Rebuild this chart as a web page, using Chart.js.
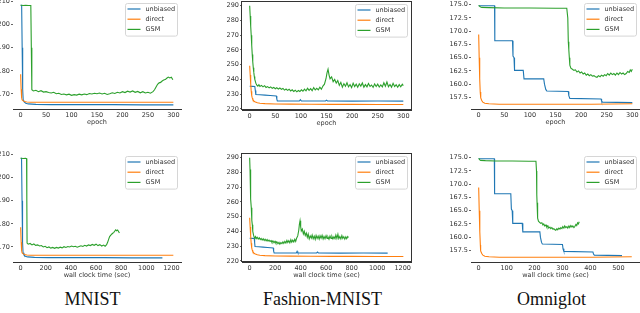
<!DOCTYPE html>
<html>
<head>
<meta charset="utf-8">
<script src="https://cdn.jsdelivr.net/npm/chart.js"></script>
<style>
body {
  margin: 0;
  width: 640px;
  height: 313px;
  overflow: hidden;
  position: relative;
  background: #fff;
}
.caption {
  position: absolute;
  font-family: "Liberation Serif", serif;
  font-size: 18px;
  line-height: 18px;
  color: #111;
  transform: translateX(-50%);
  white-space: nowrap;
}
</style>
</head>
<body>

<script>

// ==========================
// data
// ==========================

const seriesNames = ["unbiased", "direct", "GSM"];
const seriesColors = ["#1f77b4", "#ff7f0e", "#2ca02c"];
const captions = ["MNIST", "Fashion-MNIST", "Omniglot"];

const epochTicks = [0, 50, 100, 150, 200, 250, 300];
const mnistTimeTicks = [0, 200, 400, 600, 800, 1000, 1200];
const fashionTimeTicks = [0, 200, 400, 600, 800, 1000, 1200];
const omniglotTimeTicks = [0, 100, 200, 300, 400, 500];
const mnistYTicks = [170, 180, 190, 200, 210];
const fashionYTicks = [220, 230, 240, 250, 260, 270, 280, 290];
const omniglotYTicks = [157.5, 160, 162.5, 165, 167.5, 170, 172.5, 175];

// MNIST / epoch
const mnistEpochUnbiased = [[0,208.3],[2,208.3],[3,190],[4,172],[5,167.5],[7,166.6],[10,166.0],[15,165.7],[30,165.5],[60,165.4],[120,165.4],[180,165.4],[240,165.3],[300,165.3]];
const mnistEpochDirect = [[0,178.5],[1,172],[2,168.2],[3,167.4],[5,167.0],[8,166.7],[12,166.5],[20,166.4],[50,166.4],[100,166.4],[160,166.4],[230,166.4],[300,166.4]];
const mnistEpochGsm = [[0,208.3],[5,208.2],[10,208.3],[15,208.2],[20,208.2],[21,190],[22,171.8],[25,171.3],[30,171.6],[35,171.0],[40,171.4],[45,170.8],[50,171.0],[55,170.6],[60,170.4],[65,170.7],[70,170.1],[75,170.3],[80,169.8],[85,170.0],[90,169.6],[95,169.9],[100,169.4],[105,169.7],[110,169.5],[115,169.9],[120,169.6],[125,170.0],[130,169.7],[135,170.2],[140,170.0],[145,170.3],[150,170.1],[155,170.4],[160,170.0],[165,170.3],[170,169.8],[175,170.1],[180,170.5],[185,170.2],[190,170.7],[195,170.4],[200,171.0],[205,170.6],[210,171.2],[215,170.8],[220,171.3],[225,170.7],[230,171.1],[235,170.5],[240,171.0],[245,170.4],[250,170.7],[255,170.3],[260,171.0],[263,171.8],[266,173.0],[269,174.2],[272,174.8],[275,175.0],[278,175.6],[281,176.0],[284,176.2],[287,176.8],[290,177.3],[293,176.9],[296,177.2],[299,176.1]];

// MNIST / wall clock
const mnistTimeUnbiased = [[0,208.3],[7,208.3],[11,190],[15,172],[19,167.5],[26,166.6],[37,166.0],[55,165.7],[110,165.5],[220,165.4],[440,165.4],[660,165.4],[880,165.3],[1128,165.3]];
const mnistTimeDirect = [[0,178.5],[4,172],[8,168.2],[12,167.4],[20,167.0],[32,166.7],[49,166.5],[81,166.4],[200,166.4],[400,166.4],[650,166.4],[930,166.4],[1215,166.4]];
const mnistTimeGsm = [[0,208.3],[20,208.2],[40,208.3],[47,208.2],[49,190],[51,171.7],[60,171.2],[75,171.5],[90,170.9],[105,171.3],[120,170.7],[135,170.9],[150,170.4],[165,170.6],[180,170.0],[195,170.3],[210,169.7],[225,170.0],[240,169.5],[255,169.8],[270,169.4],[285,169.8],[300,169.5],[315,169.9],[330,169.6],[345,170.1],[360,169.8],[375,170.2],[390,170.0],[405,170.4],[420,170.1],[435,170.3],[450,169.9],[465,170.2],[480,170.5],[495,170.2],[510,170.7],[525,170.4],[540,170.9],[555,170.6],[570,171.1],[585,170.7],[600,171.2],[615,170.6],[630,171.0],[645,170.4],[660,170.8],[672,170.3],[684,171.0],[692,172.0],[700,173.3],[708,174.5],[716,175.0],[724,175.5],[732,175.9],[740,176.2],[748,176.8],[756,177.4],[764,177.0],[772,177.3],[780,176.6],[786,176.0]];

// Fashion-MNIST / epoch
const fashionEpochUnbiased = [[0,235.4],[5,235.3],[10,235.2],[11,232.5],[12,229.8],[20,229.6],[30,229.4],[40,229.1],[52,228.8],[53,226.6],[54,225.5],[70,225.4],[97,225.4],[99,226.3],[101,225.4],[148,225.4],[150,226.0],[152,225.4],[200,225.3],[250,225.4],[300,225.3]];
const fashionEpochDirect = [[0,249.3],[1,243],[2,237],[3,232],[4,229],[5,227.5],[6,226.5],[8,225.5],[10,224.9],[15,224.2],[20,223.9],[30,223.6],[50,223.4],[80,223.3],[120,223.2],[160,223.1],[200,223.1],[250,223.0],[300,223.0]];
const fashionEpochGsm = [[0,290],[1,283],[2,276],[3,270],[4,263],[5,257],[6,252],[7,248],[8,245],[9,242],[10,240],[12,237.5],[14,236.2],[16,235.5],[18,236.4],[20,235.3],[23,236.0],[26,235.0],[29,235.8],[32,234.6],[35,235.2],[38,234.3],[41,235.0],[44,234.0],[47,234.6],[50,233.7],[53,234.4],[56,233.5],[59,234.2],[62,233.3],[65,233.9],[68,232.8],[71,233.5],[74,232.6],[77,233.4],[80,232.2],[83,233.0],[86,231.9],[89,232.7],[92,231.6],[95,232.5],[98,231.8],[101,233.0],[104,232.0],[107,233.4],[110,232.3],[113,234.0],[116,232.6],[119,233.8],[122,232.4],[125,234.5],[128,232.9],[131,234.0],[134,233.0],[137,234.8],[140,233.4],[143,235.5],[146,236.8],[149,240.5],[151,244.5],[153,247.0],[155,243.0],[157,240.5],[160,241.8],[163,238.5],[166,240.0],[169,237.5],[172,239.2],[175,236.0],[178,238.0],[181,234.8],[184,237.2],[187,235.4],[190,237.8],[193,235.0],[196,236.6],[199,234.5],[202,237.5],[205,235.2],[208,236.8],[211,234.7],[214,237.0],[217,235.5],[220,237.6],[223,234.8],[226,236.5],[229,235.0],[232,237.3],[235,235.3],[238,236.2],[241,234.6],[244,237.0],[247,235.2],[250,236.8],[253,234.9],[256,236.3],[259,235.0],[262,237.8],[265,235.4],[268,238.3],[271,235.1],[274,236.6],[277,234.8],[280,237.4],[283,235.2],[286,236.4],[289,234.7],[292,236.5],[295,235.0],[298,236.7],[300,235.8]];

// Fashion-MNIST / wall clock
const fashionTimeUnbiased = [[0,235.4],[20,235.3],[36,235.2],[39,232.5],[42,229.8],[70,229.6],[105,229.4],[140,229.1],[185,228.8],[188,226.6],[192,225.5],[250,225.4],[366,225.4],[372,226.5],[378,225.4],[525,225.4],[532,226.0],[539,225.4],[710,225.3],[890,225.4],[1082,225.3]];
const fashionTimeDirect = [[0,249.3],[4,243],[8,237],[12,232],[16,229],[20,227.5],[24,226.5],[32,225.5],[40,224.9],[60,224.2],[80,223.9],[120,223.6],[200,223.4],[320,223.3],[480,223.2],[640,223.1],[800,223.1],[1000,223.0],[1205,223.0]];
const fashionTimeGsm = [[0,290],[3,282],[5,275],[8,269],[10,262],[13,256],[16,251],[18,247.5],[21,244.5],[23,242],[26,240],[31,237.3],[36,236.0],[41,235.6],[46,236.5],[52,235.2],[59,236.1],[67,234.9],[75,235.7],[83,234.5],[90,235.3],[98,234.2],[106,235.1],[114,233.9],[121,234.7],[129,233.6],[137,234.5],[144,233.4],[152,234.1],[160,233.2],[168,233.8],[175,232.7],[183,233.6],[191,232.4],[199,233.3],[206,232.1],[214,232.9],[222,231.7],[230,232.6],[237,231.4],[245,232.4],[253,231.7],[261,232.9],[268,231.9],[276,233.3],[284,232.2],[292,233.9],[299,232.5],[307,233.7],[315,232.3],[323,234.4],[330,232.8],[338,234.1],[346,232.9],[354,234.7],[361,233.3],[369,235.6],[377,237.0],[385,240.8],[390,244.8],[395,247.2],[400,243.2],[405,240.3],[413,241.6],[421,238.3],[428,240.1],[436,237.3],[444,239.0],[452,236.1],[459,238.2],[467,234.9],[475,237.0],[483,235.5],[490,237.6],[498,235.1],[506,236.8],[514,234.6],[521,237.3],[529,235.3],[537,236.9],[545,234.8],[552,237.1],[560,235.4],[568,237.4],[576,234.9],[583,236.6],[591,235.1],[599,237.2],[607,235.2],[614,236.3],[622,234.7],[630,236.9],[638,235.3],[645,236.7],[653,235.0],[661,236.4],[669,235.1],[676,237.6],[684,235.3],[692,238.1],[699,235.2],[707,236.5],[715,234.9],[723,237.2],[730,235.3],[738,236.5],[746,234.8],[754,236.4],[761,235.1],[769,236.6],[775,235.9]];

// Omniglot / epoch
const omniEpochUnbiased = [[0,174.8],[31,174.8],[31.5,168.2],[66,168.2],[67,165.3],[69,165.0],[70,162.6],[87,162.6],[88.5,161.0],[127,161.0],[128.5,160.0],[131,159.0],[133,158.7],[175,158.6],[176,157.8],[178,157.3],[239,157.2],[240,156.8],[242,156.6],[300,156.5]];
const omniEpochDirect = [[0,169.4],[1,165],[2,161],[3,158.5],[4,157.4],[6,156.9],[8,156.6],[12,156.4],[20,156.3],[40,156.2],[80,156.2],[150,156.2],[220,156.2],[300,156.3]];
const omniEpochGsm = [[0,174.9],[3,174.6],[6,174.5],[20,174.45],[50,174.4],[100,174.4],[150,174.35],[172,174.35],[174,172.5],[175,168],[176,166.5],[177,165],[178,163.6],[180,163.0],[183,162.8],[186,162.6],[189,162.7],[192,162.3],[195,162.5],[198,162.1],[201,162.3],[204,161.9],[207,162.1],[210,161.7],[213,161.9],[216,161.6],[219,161.8],[222,161.5],[225,161.6],[228,161.4],[231,161.3],[234,161.6],[237,161.4],[240,161.7],[243,161.5],[246,161.8],[249,161.6],[252,162.0],[255,161.7],[258,162.1],[261,161.8],[264,162.0],[267,161.7],[270,162.1],[273,161.8],[276,162.2],[279,161.9],[282,162.1],[285,161.8],[288,162.0],[291,162.4],[294,162.2],[296,162.7],[298,162.4],[300,162.8]];

// Omniglot / wall clock
const omniTimeUnbiased = [[0,174.8],[56,174.8],[57,168.2],[115,168.2],[117,165.3],[120,165.0],[122,162.6],[156,162.6],[158,161.0],[219,161.0],[221,160.0],[225,159.0],[228,158.7],[300,158.6],[302,157.8],[305,157.3],[409,157.2],[411,156.8],[414,156.6],[513,156.5]];
const omniTimeDirect = [[0,169.4],[2,165],[4,161],[6,158.5],[7,157.4],[11,156.9],[15,156.6],[22,156.4],[37,156.3],[74,156.2],[150,156.2],[275,156.2],[405,156.2],[548,156.3]];
const omniTimeGsm = [[0,174.9],[4,174.6],[7,174.5],[24,174.45],[60,174.4],[120,174.4],[180,174.35],[205,174.35],[207,172.5],[208,168],[209,166.5],[210,165],[212,163.6],[214,163.0],[218,162.8],[222,162.6],[226,162.7],[230,162.3],[233,162.5],[237,162.1],[241,162.3],[244,161.9],[248,162.1],[251,161.7],[255,161.9],[258,161.6],[262,161.8],[266,161.5],[269,161.6],[273,161.4],[276,161.3],[280,161.6],[283,161.4],[287,161.7],[291,161.5],[294,161.8],[298,161.6],[301,162.0],[305,161.7],[308,162.1],[312,161.8],[316,162.0],[319,161.7],[323,162.1],[326,161.8],[330,162.2],[334,161.9],[337,162.1],[341,161.8],[344,162.0],[348,162.4],[351,162.2],[354,162.7],[357,162.5],[360,162.9]];


// ==========================
// panel layout
// ==========================

const panels = [
  { plot: [13, 0, 181, 109], x: [-15, 315], y: [163.5, 210.6], xTicks: epochTicks, yTicks: mnistYTicks, digits: 0, xTitle: "epoch", box: false, series: [mnistEpochUnbiased, mnistEpochDirect, mnistEpochGsm] },
  { plot: [242, 1, 411, 110], x: [-15, 315], y: [219.3, 293.2], xTicks: epochTicks, yTicks: fashionYTicks, digits: 0, xTitle: "epoch", box: true, series: [fashionEpochUnbiased, fashionEpochDirect, fashionEpochGsm] },
  { plot: [471, 0, 640, 109], x: [-15, 315], y: [155.3, 175.9], xTicks: epochTicks, yTicks: omniglotYTicks, digits: 1, xTitle: "epoch", box: false, series: [omniEpochUnbiased, omniEpochDirect, omniEpochGsm] },
  { plot: [13, 153, 181, 262], x: [-61, 1276], y: [163.5, 210.6], xTicks: mnistTimeTicks, yTicks: mnistYTicks, digits: 0, xTitle: "wall clock time (sec)", box: false, series: [mnistTimeUnbiased, mnistTimeDirect, mnistTimeGsm] },
  { plot: [242, 153, 411, 262], x: [-60, 1265], y: [219.3, 293.2], xTicks: fashionTimeTicks, yTicks: fashionYTicks, digits: 0, xTitle: "wall clock time (sec)", box: true, series: [fashionTimeUnbiased, fashionTimeDirect, fashionTimeGsm] },
  { plot: [471, 153, 640, 262], x: [-27.5, 577.5], y: [155.3, 175.9], xTicks: omniglotTimeTicks, yTicks: omniglotYTicks, digits: 1, xTitle: "wall clock time (sec)", box: false, series: [omniTimeUnbiased, omniTimeDirect, omniTimeGsm] }
];

const captionPos = [[92.6, 290], [322.6, 290], [551.5, 290]];

const Y_AXIS_W = 28;
const PAD_TOP = 6;
const PAD_RIGHT = 12;
const X_AXIS_H = 17;

const FONT = "DejaVu Sans";
const TEXT_COLOR = "#333";


// ==========================
// plugins
// ==========================

const cornerLegend = {
  id: "cornerLegend",
  afterDatasetsDraw(chart) {
    const a = chart.chartArea;
    const ctx = chart.ctx;
    const sets = chart.data.datasets;
    const w = 52;
    const rowH = 10.2;
    const h = sets.length * rowH + 2;
    const x0 = Math.round(a.right - 4 - w) + 0.5;
    const y0 = Math.round(a.top + 3) + 0.5;

    ctx.save();
    ctx.fillStyle = "rgba(255,255,255,0.8)";
    ctx.strokeStyle = "#d6d6d6";
    ctx.lineWidth = 1;
    ctx.beginPath();
    ctx.roundRect(x0, y0, w, h, 2);
    ctx.fill();
    ctx.stroke();

    ctx.font = "6.5px " + FONT;
    ctx.textBaseline = "middle";
    ctx.textAlign = "left";

    sets.forEach((ds, i) => {
      const y = y0 + 5.5 + i * rowH;
      ctx.strokeStyle = ds.borderColor;
      ctx.lineWidth = 1.2;
      ctx.beginPath();
      ctx.moveTo(x0 + 2, y);
      ctx.lineTo(x0 + 15, y);
      ctx.stroke();
      ctx.fillStyle = TEXT_COLOR;
      ctx.fillText(ds.label, x0 + 20, y);
    });

    ctx.restore();
  }
};

const frameBox = {
  id: "frameBox",
  afterDatasetsDraw(chart, args, opts) {
    if (!opts.show) return;
    const a = chart.chartArea;
    const ctx = chart.ctx;
    ctx.save();
    ctx.strokeStyle = "#333";
    ctx.lineWidth = 1;
    ctx.strokeRect(Math.round(a.left) - 0.5, Math.round(a.top) + 0.5, Math.round(a.width) + 1, Math.round(a.height) - 1);
    ctx.restore();
  }
};


// ==========================
// chart builder
// ==========================

function toPoints(arr) {
  return arr.map(p => ({ x: p[0], y: p[1] }));
}

function createPanel(p) {

  const [l, t, r, b] = p.plot;
  const left = l - Y_AXIS_W;
  const top = t - PAD_TOP;
  const width = Y_AXIS_W + (r - l) + PAD_RIGHT;
  const height = PAD_TOP + (b - t) + X_AXIS_H;

  const cv = document.createElement("canvas");
  cv.width = width;
  cv.height = height;
  cv.style.cssText =
    `position:absolute;left:${left}px;top:${top}px;width:${width}px;height:${height}px`;
  document.body.appendChild(cv);

  const datasets = p.series.map((s, i) => ({
    label: seriesNames[i],
    data: toPoints(s),
    borderColor: seriesColors[i],
    borderWidth: 1.1,
    pointRadius: 0,
    tension: 0,
    fill: false,
    order: 3 - i
  }));

  return new Chart(cv, {
    type: "line",
    data: { datasets },
    plugins: [cornerLegend, frameBox],
    options: {
      responsive: false,
      devicePixelRatio: 1,
      animation: false,
      layout: { padding: { top: PAD_TOP, right: PAD_RIGHT, left: 0, bottom: 0 } },
      plugins: {
        legend: { display: false },
        tooltip: { enabled: false },
        frameBox: { show: p.box }
      },
      scales: {
        x: {
          type: "linear",
          min: p.x[0],
          max: p.x[1],
          afterBuildTicks: s => { s.ticks = p.xTicks.map(v => ({ value: v })); },
          afterFit: s => { s.height = X_AXIS_H; },
          grid: { display: false, drawTicks: false },
          border: { display: true, color: "#333", width: 1 },
          ticks: {
            autoSkip: false,
            maxRotation: 0,
            padding: 2,
            color: TEXT_COLOR,
            font: { family: FONT, size: 6.5 },
            callback: v => String(v)
          },
          title: {
            display: true,
            text: p.xTitle,
            color: TEXT_COLOR,
            padding: 0,
            font: { family: FONT, size: 6.5 }
          }
        },
        y: {
          type: "linear",
          min: p.y[0],
          max: p.y[1],
          afterBuildTicks: s => { s.ticks = p.yTicks.map(v => ({ value: v })); },
          afterFit: s => { s.width = Y_AXIS_W; },
          grid: { display: true, drawOnChartArea: false, drawTicks: true, tickLength: 2, color: "#666" },
          border: { display: false },
          ticks: {
            autoSkip: false,
            padding: 1,
            color: TEXT_COLOR,
            font: { family: FONT, size: 6.5 },
            callback: v => Number(v).toFixed(p.digits)
          }
        }
      }
    }
  });

}


// ==========================
// draw
// ==========================

panels.forEach(createPanel);

captions.forEach((c, i) => {
  const d = document.createElement("div");
  d.className = "caption";
  d.style.left = captionPos[i][0] + "px";
  d.style.top = captionPos[i][1] + "px";
  d.textContent = c;
  document.body.appendChild(d);
});

</script>

</body>
</html>
